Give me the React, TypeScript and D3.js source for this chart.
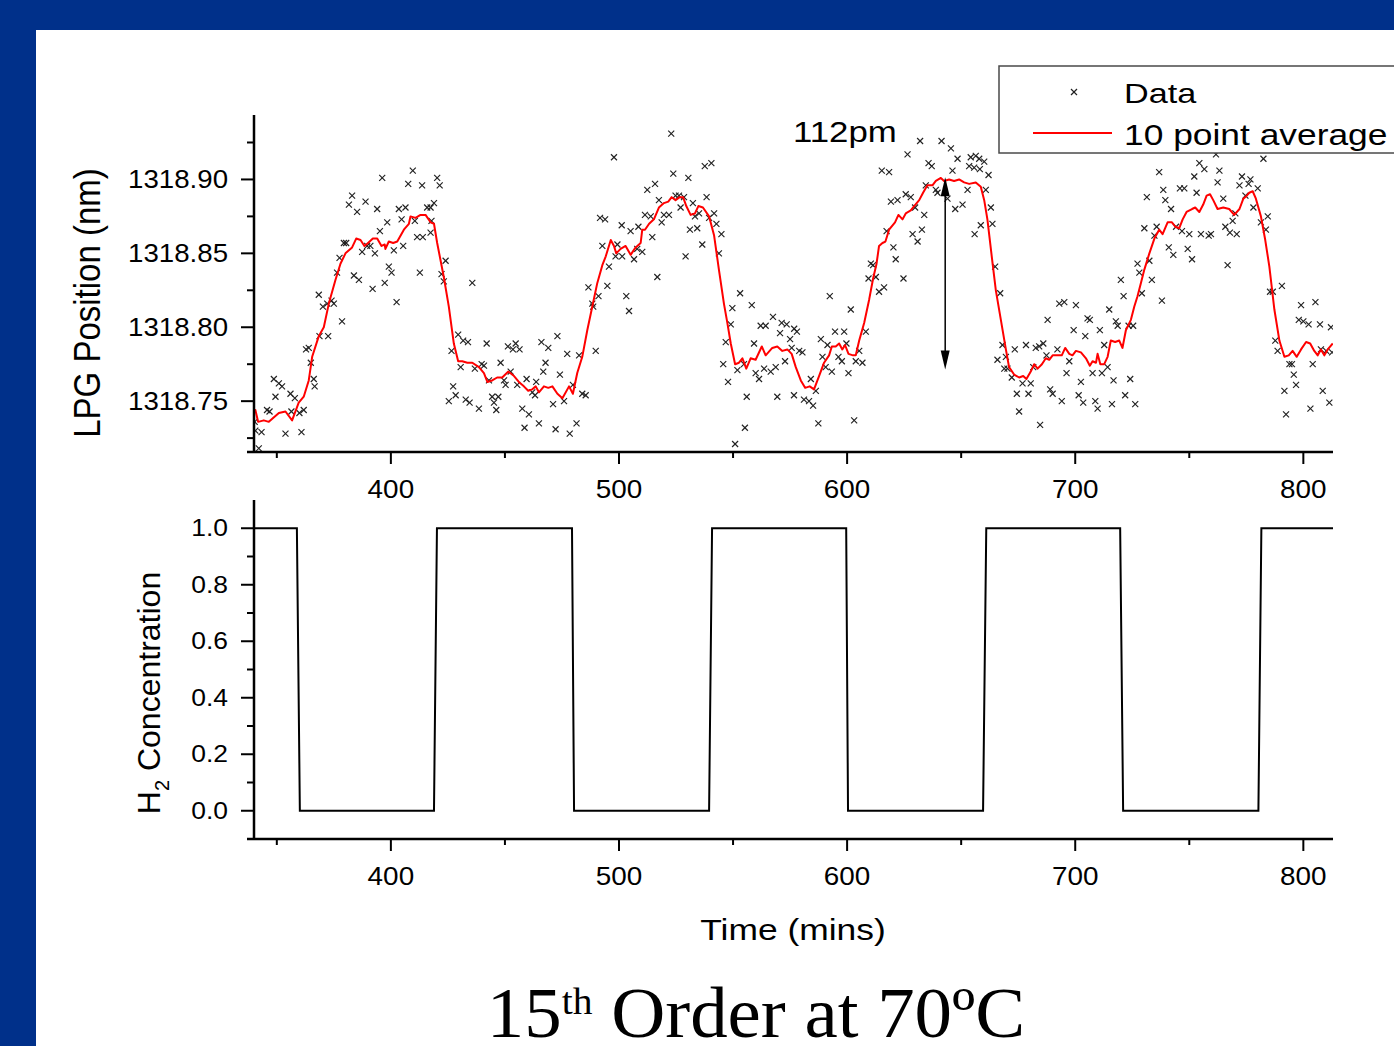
import React from 'react';
import * as d3 from 'd3';

const W = 1394;
const H = 1046;

// Raw LPG data (time in mins, wavelength in nm)
const dataPoints: [number, number][] = [
  [340.3, 1318.736], [340.6, 1318.730], [342.1, 1318.718], [343.3, 1318.729], [345.7, 1318.744], [346.8, 1318.743],
  [348.7, 1318.765], [349.4, 1318.753], [350.9, 1318.762], [352.3, 1318.760], [353.8, 1318.728], [356.0, 1318.755],
  [356.4, 1318.743], [357.9, 1318.752], [359.9, 1318.742], [360.8, 1318.729], [361.8, 1318.744], [362.8, 1318.785],
  [364.0, 1318.786], [364.9, 1318.776], [366.2, 1318.765], [366.6, 1318.760], [368.4, 1318.822], [368.7, 1318.794],
  [370.2, 1318.814], [372.1, 1318.816], [372.5, 1318.794], [374.0, 1318.818], [375.0, 1318.816], [376.4, 1318.837],
  [377.5, 1318.847], [378.6, 1318.804], [379.4, 1318.857], [380.4, 1318.857], [381.6, 1318.883], [383.0, 1318.889],
  [383.8, 1318.835], [385.2, 1318.878], [386.0, 1318.832], [387.4, 1318.851], [388.9, 1318.885], [389.6, 1318.855],
  [391.0, 1318.855], [392.0, 1318.826], [393.0, 1318.850], [394.0, 1318.880], [395.2, 1318.865], [396.2, 1318.901],
  [397.3, 1318.830], [398.4, 1318.871], [399.1, 1318.841], [400.3, 1318.837], [401.3, 1318.852], [402.5, 1318.817],
  [403.5, 1318.880], [404.7, 1318.873], [405.4, 1318.855], [406.4, 1318.881], [407.6, 1318.897], [409.6, 1318.906],
  [410.5, 1318.872], [411.5, 1318.861], [412.7, 1318.837], [413.7, 1318.896], [414.0, 1318.861], [415.9, 1318.881],
  [417.4, 1318.881], [417.4, 1318.864], [417.8, 1318.872], [418.9, 1318.884], [420.3, 1318.901], [421.4, 1318.896],
  [422.2, 1318.836], [423.2, 1318.831], [424.0, 1318.845], [425.4, 1318.750], [426.6, 1318.784], [427.3, 1318.760],
  [428.4, 1318.754], [429.5, 1318.795], [430.6, 1318.773], [431.7, 1318.791], [432.8, 1318.751], [433.8, 1318.790],
  [434.5, 1318.749], [435.7, 1318.830], [436.8, 1318.772], [438.6, 1318.745], [439.8, 1318.775], [440.8, 1318.774],
  [442.0, 1318.789], [443.0, 1318.764], [444.4, 1318.753], [445.2, 1318.749], [446.2, 1318.744], [447.1, 1318.753],
  [448.1, 1318.776], [449.6, 1318.764], [450.3, 1318.761], [451.3, 1318.787], [452.5, 1318.770], [453.5, 1318.785],
  [454.7, 1318.789], [455.4, 1318.761], [456.4, 1318.785], [457.6, 1318.745], [458.6, 1318.732], [459.5, 1318.765],
  [460.5, 1318.741], [462.0, 1318.756], [463.2, 1318.754], [463.7, 1318.763], [464.9, 1318.735], [466.0, 1318.790],
  [466.8, 1318.770], [467.8, 1318.776], [469.0, 1318.786], [471.1, 1318.748], [472.2, 1318.731], [473.0, 1318.794],
  [474.1, 1318.768], [475.9, 1318.750], [477.3, 1318.782], [478.4, 1318.728], [479.8, 1318.761], [481.4, 1318.735],
  [482.5, 1318.781], [483.9, 1318.755], [485.4, 1318.754], [486.6, 1318.827], [488.3, 1318.816], [488.7, 1318.814],
  [489.8, 1318.784], [491.0, 1318.821], [491.7, 1318.874], [492.7, 1318.855], [493.9, 1318.873], [494.9, 1318.828],
  [495.6, 1318.841], [497.8, 1318.915], [498.5, 1318.848], [499.3, 1318.856], [501.2, 1318.869], [501.4, 1318.848],
  [503.2, 1318.821], [504.4, 1318.811], [505.1, 1318.865], [506.6, 1318.846], [508.0, 1318.853], [508.5, 1318.868],
  [510.2, 1318.851], [511.4, 1318.876], [512.4, 1318.893], [513.9, 1318.875], [514.6, 1318.861], [515.8, 1318.897],
  [516.8, 1318.834], [517.5, 1318.886], [518.7, 1318.871], [519.7, 1318.876], [521.9, 1318.876], [522.9, 1318.931],
  [523.8, 1318.904], [524.8, 1318.889], [526.3, 1318.889], [527.0, 1318.881], [528.5, 1318.888], [529.2, 1318.848],
  [530.4, 1318.901], [531.1, 1318.866], [532.4, 1318.884], [533.3, 1318.875], [534.3, 1318.867], [535.1, 1318.877],
  [536.5, 1318.856], [537.6, 1318.909], [538.4, 1318.888], [539.5, 1318.874], [540.5, 1318.911], [541.7, 1318.877],
  [542.7, 1318.870], [543.8, 1318.850], [544.9, 1318.863], [545.7, 1318.775], [546.8, 1318.790], [547.8, 1318.763],
  [549.0, 1318.802], [549.7, 1318.813], [550.9, 1318.721], [551.9, 1318.771], [553.1, 1318.823], [554.8, 1318.775],
  [555.2, 1318.732], [556.0, 1318.753], [558.2, 1318.815], [559.2, 1318.789], [559.9, 1318.769], [561.4, 1318.765],
  [562.1, 1318.801], [563.6, 1318.772], [564.3, 1318.801], [566.5, 1318.770], [567.5, 1318.807], [568.7, 1318.773],
  [569.4, 1318.753], [570.6, 1318.796], [571.3, 1318.803], [572.8, 1318.777], [573.5, 1318.802], [575.0, 1318.792],
  [575.7, 1318.786], [576.7, 1318.754], [576.8, 1318.799], [578.0, 1318.797], [579.0, 1318.784], [580.4, 1318.783],
  [581.1, 1318.751], [583.3, 1318.750], [584.1, 1318.765], [585.1, 1318.747], [586.3, 1318.757], [587.4, 1318.735],
  [588.5, 1318.792], [589.2, 1318.780], [590.6, 1318.773], [591.4, 1318.788], [592.4, 1318.821], [593.3, 1318.770],
  [594.7, 1318.797], [596.2, 1318.780], [597.7, 1318.777], [598.7, 1318.797], [599.7, 1318.789], [600.6, 1318.769],
  [601.6, 1318.812], [603.1, 1318.737], [603.8, 1318.777], [605.3, 1318.784], [606.7, 1318.776], [608.2, 1318.797],
  [609.4, 1318.833], [610.4, 1318.843], [611.4, 1318.842], [612.6, 1318.834], [614.0, 1318.824], [615.2, 1318.906],
  [616.2, 1318.827], [617.3, 1318.865], [618.4, 1318.905], [619.2, 1318.885], [620.3, 1318.854], [621.3, 1318.846],
  [622.1, 1318.886], [624.7, 1318.833], [625.7, 1318.890], [626.5, 1318.917], [627.9, 1318.888], [628.7, 1318.863],
  [629.8, 1318.881], [630.9, 1318.858], [632.0, 1318.926], [632.8, 1318.866], [633.8, 1318.876], [634.5, 1318.896],
  [635.7, 1318.911], [637.1, 1318.909], [638.9, 1318.893], [639.6, 1318.891], [641.4, 1318.926], [644.0, 1318.887],
  [645.5, 1318.921], [646.2, 1318.906], [647.4, 1318.880], [648.4, 1318.914], [650.6, 1318.883], [652.8, 1318.893],
  [653.5, 1318.909], [654.2, 1318.915], [655.7, 1318.908], [655.9, 1318.863], [656.4, 1318.916], [657.9, 1318.914],
  [658.2, 1318.907], [658.6, 1318.869], [660.1, 1318.912], [660.8, 1318.893], [662.0, 1318.903], [663.0, 1318.881],
  [663.7, 1318.870], [664.9, 1318.841], [665.9, 1318.778], [667.1, 1318.823], [668.1, 1318.788], [668.9, 1318.772],
  [669.6, 1318.780], [670.3, 1318.772], [672.2, 1318.766], [673.5, 1318.785], [674.4, 1318.755], [675.4, 1318.743],
  [676.9, 1318.762], [678.4, 1318.788], [679.5, 1318.755], [680.5, 1318.762], [681.6, 1318.773], [682.7, 1318.786],
  [684.2, 1318.787], [684.6, 1318.734], [686.0, 1318.789], [687.4, 1318.781], [687.9, 1318.805], [689.0, 1318.758],
  [690.1, 1318.755], [692.2, 1318.785], [693.0, 1318.816], [694.1, 1318.750], [695.2, 1318.817], [696.2, 1318.769],
  [697.4, 1318.777], [699.3, 1318.798], [700.3, 1318.815], [701.5, 1318.754], [702.5, 1318.763], [703.5, 1318.749],
  [704.4, 1318.794], [705.4, 1318.806], [706.4, 1318.805], [707.6, 1318.769], [708.8, 1318.750], [709.8, 1318.745],
  [710.8, 1318.798], [711.7, 1318.769], [712.7, 1318.788], [714.2, 1318.773], [714.9, 1318.812], [716.1, 1318.748],
  [716.8, 1318.764], [717.8, 1318.804], [718.6, 1318.801], [720.0, 1318.832], [721.2, 1318.821], [721.9, 1318.754],
  [723.4, 1318.801], [724.1, 1318.765], [725.4, 1318.801], [726.3, 1318.748], [727.3, 1318.843], [728.1, 1318.837],
  [729.2, 1318.823], [730.3, 1318.867], [731.4, 1318.888], [732.5, 1318.845], [733.6, 1318.832], [734.7, 1318.862],
  [735.7, 1318.868], [736.8, 1318.905], [738.0, 1318.818], [738.6, 1318.893], [739.5, 1318.886], [741.0, 1318.854],
  [742.0, 1318.880], [743.0, 1318.849], [744.2, 1318.868], [745.9, 1318.894], [746.8, 1318.865], [747.8, 1318.894],
  [749.3, 1318.853], [750.0, 1318.863], [751.2, 1318.846], [752.2, 1318.902], [753.2, 1318.891], [754.4, 1318.911],
  [755.1, 1318.863], [756.6, 1318.907], [758.5, 1318.862], [759.5, 1318.863], [761.7, 1318.917], [762.4, 1318.898],
  [763.2, 1318.906], [764.9, 1318.887], [765.8, 1318.868], [766.8, 1318.842], [767.8, 1318.864], [769.0, 1318.872],
  [770.2, 1318.877], [770.8, 1318.863], [772.0, 1318.896], [773.1, 1318.902], [774.6, 1318.889], [776.0, 1318.897],
  [776.8, 1318.900], [778.1, 1318.881], [780.0, 1318.894], [781.4, 1318.871], [782.5, 1318.914], [783.6, 1318.866],
  [784.4, 1318.875], [785.4, 1318.824], [786.6, 1318.824], [787.7, 1318.791], [788.7, 1318.784], [790.6, 1318.828],
  [791.7, 1318.757], [792.4, 1318.741], [793.9, 1318.775], [795.0, 1318.775], [795.8, 1318.768], [796.8, 1318.761],
  [798.0, 1318.805], [799.0, 1318.815], [800.0, 1318.804], [802.3, 1318.802], [803.1, 1318.745], [804.1, 1318.775],
  [805.3, 1318.817], [807.3, 1318.802], [807.7, 1318.785], [808.5, 1318.757], [810.0, 1318.784], [811.4, 1318.749],
  [812.1, 1318.800], [812.6, 1318.783],
];

// 10 point average curve (time, nm)
const averagePoints: [number, number][] = [
  [339.2, 1318.742], [340.6, 1318.744], [341.8, 1318.736], [344.3, 1318.737], [346.5, 1318.736], [350.9, 1318.742],
  [353.8, 1318.743], [356.7, 1318.737], [359.6, 1318.749], [361.8, 1318.753], [364.0, 1318.764], [365.5, 1318.780],
  [368.4, 1318.794], [370.6, 1318.800], [372.8, 1318.816], [375.7, 1318.832], [377.9, 1318.843], [380.1, 1318.850],
  [383.0, 1318.854], [384.8, 1318.860], [386.7, 1318.859], [388.4, 1318.855], [390.0, 1318.857], [392.1, 1318.860],
  [394.0, 1318.860], [395.9, 1318.855], [397.3, 1318.856], [397.6, 1318.853], [399.1, 1318.858], [401.0, 1318.857],
  [402.8, 1318.858], [405.7, 1318.866], [407.9, 1318.870], [408.6, 1318.875], [410.8, 1318.874], [413.0, 1318.876],
  [415.2, 1318.876], [417.4, 1318.871], [418.9, 1318.870], [420.3, 1318.857], [423.2, 1318.834], [425.4, 1318.814],
  [427.6, 1318.789], [429.5, 1318.777], [431.3, 1318.777], [433.5, 1318.776], [435.7, 1318.776], [438.6, 1318.773],
  [440.8, 1318.769], [442.3, 1318.763], [444.4, 1318.764], [446.6, 1318.766], [448.8, 1318.766], [451.5, 1318.770],
  [454.0, 1318.767], [456.1, 1318.763], [458.3, 1318.760], [460.2, 1318.757], [462.0, 1318.758], [463.5, 1318.760],
  [464.9, 1318.756], [467.1, 1318.760], [469.0, 1318.759], [470.8, 1318.760], [473.0, 1318.755], [475.2, 1318.752],
  [478.1, 1318.760], [479.8, 1318.755], [481.7, 1318.769], [483.9, 1318.780], [486.1, 1318.798], [488.3, 1318.814],
  [490.5, 1318.830], [492.7, 1318.842], [494.2, 1318.848], [496.4, 1318.859], [497.8, 1318.855], [498.8, 1318.850],
  [500.7, 1318.853], [502.9, 1318.855], [505.1, 1318.849], [507.3, 1318.854], [509.5, 1318.857], [510.2, 1318.866],
  [511.4, 1318.866], [513.2, 1318.870], [515.3, 1318.873], [517.5, 1318.881], [519.7, 1318.884], [521.6, 1318.885],
  [523.1, 1318.888], [524.8, 1318.886], [526.6, 1318.888], [528.1, 1318.888], [529.5, 1318.882], [531.4, 1318.876],
  [533.3, 1318.877], [534.8, 1318.882], [536.8, 1318.881], [539.5, 1318.875], [541.7, 1318.862], [543.8, 1318.839],
  [546.0, 1318.816], [547.5, 1318.803], [549.0, 1318.789], [550.9, 1318.775], [552.6, 1318.776], [554.1, 1318.779],
  [555.8, 1318.772], [557.7, 1318.779], [559.9, 1318.778], [562.6, 1318.787], [564.3, 1318.781], [567.2, 1318.786],
  [569.4, 1318.787], [571.6, 1318.784], [573.8, 1318.785], [575.7, 1318.782], [577.5, 1318.773], [579.7, 1318.764],
  [581.6, 1318.759], [583.6, 1318.760], [585.5, 1318.758], [587.7, 1318.767], [589.9, 1318.776], [592.1, 1318.781],
  [593.3, 1318.787], [595.0, 1318.787], [596.5, 1318.789], [597.9, 1318.785], [599.1, 1318.788], [600.6, 1318.782],
  [602.6, 1318.781], [603.8, 1318.781], [605.3, 1318.791], [607.5, 1318.803], [609.7, 1318.819], [611.4, 1318.833],
  [612.9, 1318.843], [614.0, 1318.855], [615.5, 1318.857], [616.8, 1318.858], [618.4, 1318.866], [621.0, 1318.871],
  [622.5, 1318.876], [624.3, 1318.873], [625.7, 1318.877], [627.9, 1318.879], [629.4, 1318.882], [631.6, 1318.886],
  [633.3, 1318.891], [635.2, 1318.896], [637.4, 1318.896], [638.9, 1318.899], [641.1, 1318.901], [642.5, 1318.899],
  [644.7, 1318.900], [646.9, 1318.899], [649.1, 1318.900], [651.3, 1318.898], [653.5, 1318.897], [656.4, 1318.898],
  [658.6, 1318.895], [660.1, 1318.886], [661.5, 1318.873], [663.4, 1318.848], [665.2, 1318.825], [667.4, 1318.805],
  [669.6, 1318.785], [671.0, 1318.773], [673.2, 1318.768], [675.4, 1318.766], [677.2, 1318.767], [678.6, 1318.765],
  [680.5, 1318.770], [682.0, 1318.775], [683.5, 1318.772], [685.4, 1318.775], [687.1, 1318.779], [688.6, 1318.778],
  [690.1, 1318.781], [692.2, 1318.781], [694.1, 1318.781], [695.6, 1318.786], [697.4, 1318.782], [698.8, 1318.781],
  [700.3, 1318.784], [702.5, 1318.783], [704.7, 1318.779], [706.4, 1318.774], [707.6, 1318.777], [709.1, 1318.776],
  [709.8, 1318.782], [711.0, 1318.775], [712.7, 1318.775], [714.2, 1318.780], [715.6, 1318.791], [717.5, 1318.790],
  [719.3, 1318.791], [720.7, 1318.786], [722.2, 1318.798], [724.4, 1318.805], [725.9, 1318.814], [727.3, 1318.821],
  [728.8, 1318.830], [730.3, 1318.839], [732.5, 1318.850], [734.7, 1318.860], [736.8, 1318.866], [738.3, 1318.863],
  [740.5, 1318.871], [742.4, 1318.871], [743.9, 1318.868], [745.6, 1318.867], [747.1, 1318.873], [748.8, 1318.878],
  [751.2, 1318.880], [752.6, 1318.881], [754.4, 1318.878], [756.1, 1318.883], [757.6, 1318.889], [759.1, 1318.890],
  [760.5, 1318.886], [762.4, 1318.880], [764.9, 1318.881], [767.5, 1318.880], [769.7, 1318.876], [772.0, 1318.880],
  [773.7, 1318.887], [775.2, 1318.889], [776.3, 1318.891], [777.8, 1318.892], [779.2, 1318.887], [781.4, 1318.875],
  [783.3, 1318.859], [785.1, 1318.841], [787.3, 1318.812], [789.5, 1318.791], [791.7, 1318.780], [793.6, 1318.781],
  [795.3, 1318.784], [797.1, 1318.780], [799.0, 1318.785], [801.2, 1318.790], [803.0, 1318.789], [804.8, 1318.784],
  [806.3, 1318.781], [807.7, 1318.785], [809.2, 1318.781], [810.7, 1318.785], [812.9, 1318.789],
];

// H2 concentration square wave (time, concentration)
const h2Points: [number, number][] = [
  [339, 1], [358.8, 1], [360.1, 0], [418.9, 0], [420.2, 1], [479.4, 1], [480.3, 0], [539.5, 0], [540.8, 1],
  [599.6, 1], [600.4, 0], [659.6, 0], [661.0, 1], [719.7, 1], [721.0, 0], [780.3, 0], [781.6, 1], [814, 1],
];

const timeDomain: [number, number] = [340, 813];
const lpgDomain: [number, number] = [1318.7156, 1318.9436];
const h2Domain: [number, number] = [-0.1, 1.1];

const timeTicksMajor = [400, 500, 600, 700, 800];
const timeTicksMinor = [350, 450, 550, 650, 750];
const lpgTicksMajor = [1318.75, 1318.8, 1318.85, 1318.9];
const lpgTicksMinor = [1318.725, 1318.775, 1318.825, 1318.875, 1318.925];
const h2TicksMajor = [0, 0.2, 0.4, 0.6, 0.8, 1.0];
const h2TicksMinor = [0.1, 0.3, 0.5, 0.7, 0.9];

const arrowSpan = { time: 643, from: 1318.9015, to: 1318.7715 };

const BLUE = '#00308a';
const SANS = '"Liberation Sans", Arial, Helvetica, sans-serif';
const SERIF = '"Liberation Serif", "Times New Roman", Times, serif';

const L = 254, R = 1333;
const T1 = 115, B1 = 452;
const T2 = 500, B2 = 839;

function Txt(props: {
  x: number; y: number; sx?: number; rot?: number; anchor?: string; size: number;
  family?: string; children: React.ReactNode;
}) {
  const { x, y, sx = 1, rot = 0, anchor = 'start', size, family = SANS, children } = props;
  return (
    <text
      transform={`translate(${x},${y}) scale(${sx},1)${rot ? ` rotate(${rot})` : ''}`}
      textAnchor={anchor as any}
      fontSize={size}
      fontFamily={family}
      fill="#000"
    >
      {children}
    </text>
  );
}

export default function App() {
  const x = d3.scaleLinear().domain(timeDomain).range([L, R]);
  const yTop = d3.scaleLinear().domain(lpgDomain).range([B1, T1]);
  const yBot = d3.scaleLinear().domain(h2Domain).range([B2, T2]);

  const avgLine = d3.line<[number, number]>().x(d => x(d[0])).y(d => yTop(d[1]))(averagePoints) || '';
  const h2Line = d3.line<[number, number]>().x(d => x(d[0])).y(d => yBot(d[1]))(h2Points) || '';

  const ms = 3;
  const ax = x(arrowSpan.time);
  const ay1 = yTop(arrowSpan.from);
  const ay2 = yTop(arrowSpan.to);

  const xAxis = (yAxis: number) => (
    <g stroke="#000" strokeWidth={2}>
      <line x1={247} x2={R} y1={yAxis} y2={yAxis} strokeWidth={2.5} />
      {timeTicksMajor.map(t => <line key={'M' + t} x1={x(t)} x2={x(t)} y1={yAxis} y2={yAxis + 12} />)}
      {timeTicksMinor.map(t => <line key={'m' + t} x1={x(t)} x2={x(t)} y1={yAxis} y2={yAxis + 6} />)}
    </g>
  );
  const xLabels = (yAxis: number) =>
    timeTicksMajor.map(t => (
      <Txt key={'l' + t} x={x(t)} y={yAxis + 46} sx={1.09} anchor="middle" size={25.6}>{String(t)}</Txt>
    ));

  return (
    <svg width={W} height={H} style={{ position: 'absolute', left: 0, top: 0, display: 'block' }}>
      <defs>
        <clipPath id="clipTop"><rect x={L} y={T1} width={R - L} height={B1 - T1} /></clipPath>
        <clipPath id="clipBot"><rect x={L} y={T2 - 5} width={R - L} height={B2 - T2 + 5} /></clipPath>
      </defs>
      <rect x={0} y={0} width={W} height={H} fill={BLUE} />
      <rect x={36} y={30} width={W - 36} height={H - 30} fill="#fff" />

      {/* Top plot data */}
      <g clipPath="url(#clipTop)">
        <g stroke="#222" strokeWidth={1.15}>
          {dataPoints.map((d, i) => {
            const cx = x(d[0]), cy = yTop(d[1]);
            return (
              <g key={i}>
                <line x1={cx - ms} y1={cy - ms} x2={cx + ms} y2={cy + ms} />
                <line x1={cx - ms} y1={cy + ms} x2={cx + ms} y2={cy - ms} />
              </g>
            );
          })}
        </g>
        <path d={avgLine} fill="none" stroke="#ff0000" strokeWidth={2} strokeLinejoin="round" />
      </g>

      {/* arrow */}
      <g stroke="#000" fill="#000">
        <line x1={ax} x2={ax} y1={ay1 + 10} y2={ay2 - 10} strokeWidth={1.5} />
        <path d={`M${ax},${ay1} L${ax - 4.5},${ay1 + 19} L${ax + 4.5},${ay1 + 19} Z`} stroke="none" />
        <path d={`M${ax},${ay2} L${ax - 4.5},${ay2 - 19} L${ax + 4.5},${ay2 - 19} Z`} stroke="none" />
      </g>
      <Txt x={793} y={142} sx={1.2} size={29}>112pm</Txt>

      {/* Top axes */}
      <g stroke="#000" strokeWidth={2}>
        <line x1={L} x2={L} y1={T1} y2={B1} strokeWidth={2.5} />
        {lpgTicksMajor.map(v => <line key={'M' + v} x1={L - 13} x2={L} y1={yTop(v)} y2={yTop(v)} />)}
        {lpgTicksMinor.map(v => <line key={'m' + v} x1={L - 7} x2={L} y1={yTop(v)} y2={yTop(v)} />)}
      </g>
      {xAxis(B1)}
      {xLabels(B1)}
      {lpgTicksMajor.map(v => (
        <Txt key={'yl' + v} x={228} y={yTop(v) + 9} sx={1.08} anchor="end" size={25.6}>{v.toFixed(2)}</Txt>
      ))}
      <Txt x={100} y={303} sx={1.12} rot={-90} anchor="middle" size={33}>LPG Position (nm)</Txt>

      {/* Legend */}
      <rect x={999} y={66} width={420} height={87} fill="#fff" stroke="#4a4a4a" strokeWidth={1.5} />
      <g stroke="#222" strokeWidth={1.15}>
        <line x1={1074 - ms} y1={92 - ms} x2={1074 + ms} y2={92 + ms} />
        <line x1={1074 - ms} y1={92 + ms} x2={1074 + ms} y2={92 - ms} />
      </g>
      <line x1={1033} x2={1112} y1={133} y2={133} stroke="#ff0000" strokeWidth={2} />
      <Txt x={1124} y={103} sx={1.2} size={28.5}>Data</Txt>
      <Txt x={1124} y={145} sx={1.22} size={29}>10 point average</Txt>

      {/* Bottom plot */}
      <g clipPath="url(#clipBot)">
        <path d={h2Line} fill="none" stroke="#000" strokeWidth={2} />
      </g>
      <g stroke="#000" strokeWidth={2}>
        <line x1={L} x2={L} y1={T2} y2={B2} strokeWidth={2.5} />
        {h2TicksMajor.map(v => <line key={'M' + v} x1={L - 13} x2={L} y1={yBot(v)} y2={yBot(v)} />)}
        {h2TicksMinor.map(v => <line key={'m' + v} x1={L - 7} x2={L} y1={yBot(v)} y2={yBot(v)} />)}
      </g>
      {xAxis(B2)}
      {xLabels(B2)}
      {h2TicksMajor.map(v => (
        <Txt key={'hl' + v} x={228} y={yBot(v) + 8} sx={1.15} anchor="end" size={23}>{v.toFixed(1)}</Txt>
      ))}
      <Txt x={160} y={693} sx={1.0} rot={-90} anchor="middle" size={32}>
        <tspan>H</tspan>
        <tspan dy={9} fontSize={20}>2</tspan>
        <tspan dy={-9}> Concentration</tspan>
      </Txt>
      <Txt x={793} y={940} sx={1.18} anchor="middle" size={30}>Time (mins)</Txt>

      {/* Title */}
      <Txt x={756} y={1037} sx={1.04} anchor="middle" size={72} family={SERIF}>
        <tspan>15</tspan>
        <tspan dy={-23} fontSize={38}>th</tspan>
        <tspan dy={23}> Order at 70ºC</tspan>
      </Txt>
    </svg>
  );
}
